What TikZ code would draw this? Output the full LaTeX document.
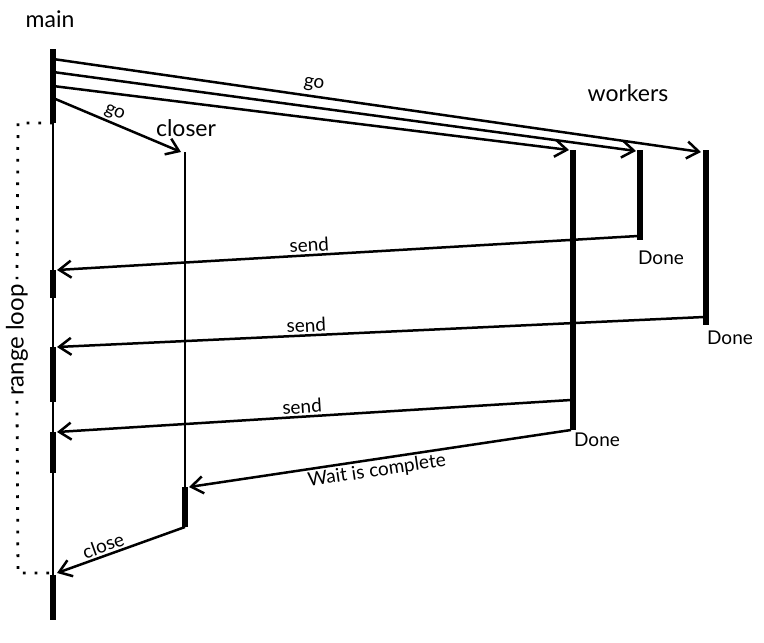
\documentclass[tikz,border=0pt]{standalone}
\usepackage{fontspec}
\setmainfont{Lato}
\usetikzlibrary{arrows.meta}
\begin{document}
\begin{tikzpicture}[x=1pt,y=-1pt,
  thin line/.style={line width=2.5pt},
  thick line/.style={line width=5.5pt},
  msg/.style={line width=2.5pt,-{Straight Barb[length=12pt,width=17pt,line width=2.5pt]}},
  title/.style={font=\fontsize{23}{26}\selectfont},
  done/.style={font=\fontsize{19}{22}\selectfont},
  lab/.style={font=\fontsize{19}{22}\selectfont,sloped,inner sep=2pt},
  loopline/.style={line width=2.8pt,dash pattern=on 2.8pt off 9pt}]
\useasboundingbox (0,0) rectangle (764,643);
% coordinates on lifelines
\coordinate (mTop) at (53,49);
\coordinate (mA) at (53,123);
\coordinate (mB) at (53,620);
\coordinate (cTop) at (185,152);
\coordinate (cA) at (185,487);
\coordinate (cB) at (185,527);
\coordinate (w1Top) at (573,150);
\coordinate (w1B) at (573,430);
\coordinate (w2Top) at (640,150);
\coordinate (w2B) at (640,240);
\coordinate (w3Top) at (706,150);
\coordinate (w3B) at (706,325);
% lifelines
\draw[thick line] (mTop) -- (mA);
\draw[thin line] (mA) -- (mB);
\foreach \a/\b in {270/298,347/402,432/473,575/620}
  \draw[thick line] (53,\a) -- (53,\b);
\draw[line width=2.2pt] (cTop) -- (cA);
\draw[thick line] (cA) -- (cB);
\draw[thick line] (w1Top) -- (w1B);
\draw[thick line] (w2Top) -- (w2B);
\draw[thick line] (w3Top) -- (w3B);
% titles
\node[title] (tmain) at (50,19) {main};
\node[title] (tcloser) at (186,128) {closer};
\node[title] (tworkers) at (628,93) {workers};
\node[done] (d2) at (661,258) {Done};
\node[done] (d3) at (730,338) {Done};
\node[done] (d1) at (597,440) {Done};
% range loop
\coordinate (lA) at (18,123);
\coordinate (lB) at (18,573);
\coordinate (lC) at (53,573);
\node[rotate=90,font=\fontsize{24}{26}\selectfont,fill=white,inner sep=5pt] (rl) at (17,340) {range loop};
\draw[loopline] (mA) -- (lA) -- (rl.east);
\draw[loopline] (rl.west) -- (lB) -- (lC);
% go messages
\coordinate (g1s) at (53,59);  \coordinate (g1e) at (701,152);
\coordinate (g2s) at (53,72);  \coordinate (g2e) at (636,151);
\coordinate (g3s) at (53,86);  \coordinate (g3e) at (569,150);
\coordinate (g4s) at (53,98);  \coordinate (g4e) at (181,152);
\draw[msg] (g1s) -- node[lab,pos=0.40,above=2pt] {go} (g1e);
\draw[msg] (g2s) -- (g2e);
\draw[msg] (g3s) -- (g3e);
\draw[msg] (g4s) -- node[lab,pos=0.45,above=0pt] {go} (g4e);
% sends
\coordinate (s1s) at (638,236); \coordinate (s1e) at (57,270);
\coordinate (s2s) at (704,317); \coordinate (s2e) at (57,347);
\coordinate (s3s) at (571,400); \coordinate (s3e) at (57,432);
\draw[msg] (s1s) -- node[lab,pos=0.565,above=0pt] {send} (s1e);
\draw[msg] (s2s) -- node[lab,pos=0.614,above=0pt] {send} (s2e);
\draw[msg] (s3s) -- node[lab,pos=0.522,above=0pt] {send} (s3e);
% wait
\coordinate (ws) at (571,430); \coordinate (we) at (189,487);
\draw[msg] (ws) -- node[lab,pos=0.513,below=0pt] {Wait is complete} (we);
% close
\coordinate (cls) at (185,527); \coordinate (cle) at (57,573);
\draw[msg] (cls) -- node[lab,pos=0.612,above=0pt] {close} (cle);
\end{tikzpicture}
\end{document}
